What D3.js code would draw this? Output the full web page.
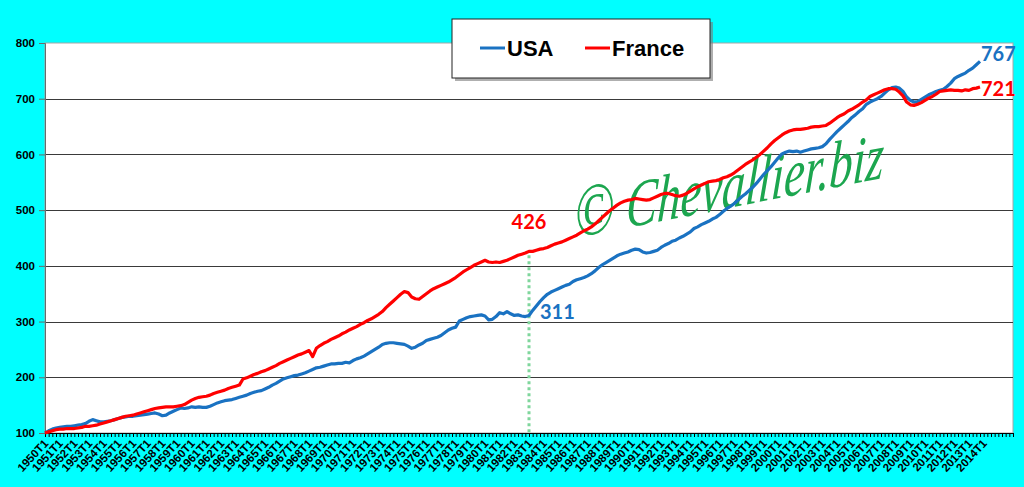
<!DOCTYPE html>
<html>
<head>
<meta charset="utf-8">
<script src="https://cdn.jsdelivr.net/npm/d3@7"></script>
<style>
  html, body { margin: 0; padding: 0; background: #00ffff; }
  svg { display: block; }
  .axis text { font-family: "Liberation Sans", Arial, sans-serif; font-weight: bold; fill: #000; }
  .lbl { font-family: Lato, "Open Sans", sans-serif; font-weight: bold; font-size: 20px; }
</style>
</head>
<body>
<div class="box"></div>
<script>
// tick labels: one category per quarter, axis runs a bit past the data
var years = d3.range(1950, 2016);
var quarters = [];
years.forEach(function(yr) {
  ["T1", "T2", "T3", "T4"].forEach(function(q) { quarters.push(yr + q); });
});
quarters.push("2016T1");

var yTicks = [100, 200, 300, 400, 500, 600, 700, 800];

// series, 1950T1 .. 2013T4 (base 100 = 1950T1)
var usa = [
  100, 104, 107, 109,  110, 111, 112, 112,  113, 114, 115, 117,  121, 124, 122, 120,
  120, 121, 122, 124,  126, 128, 129, 130,  130, 131, 132, 133,  134, 135, 136, 134,
  131, 132, 136, 139,  142, 145, 144, 145,  147, 146, 147, 146,  146, 148, 151, 154,
  156, 158, 159, 160,  162, 164, 166, 168,  171, 173, 175, 176,  179, 182, 186, 189,
  193, 197, 199, 201,  203, 204, 206, 208,  211, 214, 217, 218,  220, 222, 224, 224,
  225, 225, 227, 226,  230, 233, 235, 238,  242, 246, 250, 254,  259, 261, 262, 262,
  261, 260, 259, 256,  252, 254, 258, 261,  266, 268, 270, 272,  275, 280, 285, 288,
  290, 301, 304, 307,  309, 310, 311, 312,  310, 303, 304, 309,  316, 314, 318, 314,
  311, 312, 310, 309,  311, 320, 328, 336,  343, 349, 353, 356,  359, 362, 365, 367,
  372, 375, 377, 379,  382, 386, 391, 397,  402, 406, 410, 414,  418, 421, 423, 425,
  428, 430, 429, 425,  423, 424, 426, 428,  433, 437, 440, 444,  446, 450, 453, 457,
  461, 467, 470, 474,  477, 480, 484, 487,  492, 498, 503, 507,  512, 518, 524, 529,
  535, 541, 548, 556,  564, 571, 578, 586,  594, 601, 604, 606,  605, 606, 604, 606,
  608, 610, 611, 612,  614, 619, 627, 634,  641, 647, 653, 659,  666, 671, 677, 682,
  690, 694, 697, 700,  704, 710, 716, 720,  721, 719, 713, 703,  697, 694, 695, 699,
  703, 707, 710, 713,  715, 717, 722, 728,  736, 740, 743, 746,  751, 755, 761, 767
];
var france = [
  100, 102, 104, 106,  107, 107, 108, 108,  108, 109, 110, 112,  112, 113, 114, 116,
  118, 120, 122, 124,  126, 128, 130, 131,  132, 134, 136, 138,  140, 142, 144, 145,
  146, 147, 147, 147,  148, 149, 151, 155,  159, 162, 164, 165,  166, 168, 171, 173,
  175, 177, 180, 182,  184, 186, 197, 199,  202, 205, 207, 210,  212, 215, 218, 221,
  225, 228, 231, 234,  237, 240, 242, 245,  248, 237, 252, 257,  261, 264, 268, 271,
  274, 278, 281, 285,  288, 291, 295, 298,  302, 305, 309, 313,  318, 325, 331, 337,
  343, 349, 354, 352,  344, 341, 340, 345,  350, 355, 359, 362,  365, 368, 371, 375,
  379, 384, 389, 393,  397, 401, 404, 407,  410, 407, 406, 407,  406, 408, 410, 413,
  416, 419, 421, 423,  426, 426, 428, 430,  431, 433, 436, 439,  441, 443, 446, 449,
  452, 455, 459, 463,  466, 470, 475, 481,  487, 493, 499, 504,  509, 513, 516, 518,
  519, 521, 520, 519,  518, 519, 522, 525,  528, 530, 530, 528,  526, 525, 527, 530,
  534, 538, 542, 545,  548, 551, 552, 553,  555, 558, 560, 563,  567, 572, 577, 582,
  586, 590, 595, 600,  606, 612, 619, 625,  630, 635, 639, 642,  644, 645, 645, 646,
  647, 649, 650, 650,  651, 652, 656, 661,  666, 670, 673, 678,  681, 685, 689, 694,
  698, 704, 707, 710,  713, 716, 718, 718,  717, 712, 705, 694,  689, 688, 690, 693,
  697, 701, 704, 708,  713, 714, 715, 716,  715, 715, 714, 716,  715, 718, 719, 721
];

var markQuarter = "1983T1";

var width = 1024, height = 487;
var margin = { top: 43, right: 11, bottom: 54, left: 45 };

var svg = d3.select(".box").append("svg")
  .attr("width", width)
  .attr("height", height);

svg.append("rect")
  .attr("width", width)
  .attr("height", height)
  .attr("fill", "#00ffff");

// scales
var x = d3.scalePoint()
  .domain(quarters)
  .range([margin.left, width - margin.right]);
var y = d3.scaleLinear()
  .domain([100, 800])
  .range([height - margin.bottom, margin.top]);

// plot area
svg.append("rect")
  .attr("x", margin.left)
  .attr("y", margin.top)
  .attr("width", width - margin.left - margin.right)
  .attr("height", height - margin.top - margin.bottom)
  .attr("fill", "#fff")
  .attr("stroke", "#a6a6a6");

// gridlines
svg.append("g")
  .selectAll("line")
  .data(yTicks.slice(1, -1))
  .enter()
  .append("line")
  .attr("x1", margin.left)
  .attr("x2", width - margin.right)
  .attr("y1", function(d) { return Math.round(y(d)) + 0.5; })
  .attr("y2", function(d) { return Math.round(y(d)) + 0.5; })
  .attr("stroke", "#3a3a3a")
  .attr("stroke-width", 1.2);

// y axis
var yAxis = svg.append("g")
  .attr("class", "axis")
  .attr("transform", "translate(" + margin.left + ",0)")
  .call(d3.axisLeft(y).tickValues(yTicks).tickSize(6).tickPadding(4));
yAxis.selectAll("text").style("font-size", "11.5px");
yAxis.selectAll("line, path").attr("stroke", "#6b6b6b");

// x axis: a tick per quarter, a label per year
var xAxis = svg.append("g")
  .attr("class", "axis")
  .attr("transform", "translate(0," + (height - margin.bottom) + ")")
  .call(d3.axisBottom(x).tickSize(4).tickFormat(""));
xAxis.selectAll("line, path").attr("stroke", "#000");

svg.append("g")
  .attr("class", "axis")
  .selectAll("text")
  .data(quarters.filter(function(q) { return /T1$/.test(q) && +q.slice(0, 4) <= 2014; }))
  .enter()
  .append("text")
  .attr("transform", function(d) {
    return "translate(" + (x(d) + 4) + "," + (height - margin.bottom + 11) + ") rotate(-47)";
  })
  .style("text-anchor", "end")
  .style("font-size", "11.5px")
  .text(function(d) { return d; });

// watermark
var wm = svg.append("text")
  .attr("transform", "translate(574,238) rotate(-11) skewX(-14) scale(0.95,1.3)")
  .style("font-family", "'Liberation Serif', 'DejaVu Serif', serif")
  .style("font-style", "italic")
  .attr("fill", "#1ca64f");
wm.append("tspan")
  .style("font-size", "56px")
  .style("font-style", "normal")
  .text("\u00A9");
wm.append("tspan")
  .style("font-size", "50px")
  .text(" Chevallier.biz");

// dotted marker line at 1983T1
var mi = quarters.indexOf(markQuarter);
svg.append("line")
  .attr("x1", x(markQuarter))
  .attr("x2", x(markQuarter))
  .attr("y1", y(france[mi]) + 4)
  .attr("y2", y(100))
  .attr("stroke", "#7fd69c")
  .attr("stroke-width", 3)
  .attr("stroke-dasharray", "3,3");

// lines
var line = d3.line()
  .x(function(d, i) { return x(quarters[i]); })
  .y(function(d) { return y(d); });

svg.append("path")
  .datum(usa)
  .attr("d", line)
  .attr("fill", "none")
  .attr("stroke", "#1a72c2")
  .attr("stroke-width", 3.2)
  .attr("stroke-linejoin", "round");

svg.append("path")
  .datum(france)
  .attr("d", line)
  .attr("fill", "none")
  .attr("stroke", "#ff0000")
  .attr("stroke-width", 3.2)
  .attr("stroke-linejoin", "round");

// value labels
var last = usa.length - 1;
svg.append("text").attr("class", "lbl")
  .attr("x", x(markQuarter)).attr("y", y(france[mi]) - 22)
  .style("text-anchor", "middle").attr("fill", "#ff0000")
  .text(france[mi]);
svg.append("text").attr("class", "lbl")
  .attr("x", x(markQuarter) + 11).attr("y", y(usa[mi]) + 4)
  .attr("fill", "#1a72c2")
  .text(usa[mi]);
svg.append("text").attr("class", "lbl")
  .attr("x", x(quarters[last]) + 1).attr("y", y(usa[last]))
  .attr("fill", "#1a72c2")
  .text(usa[last]);
svg.append("text").attr("class", "lbl")
  .attr("x", x(quarters[last]) + 1).attr("y", y(france[last]) + 9)
  .attr("fill", "#ff0000")
  .text(france[last]);

// legend
var legend = svg.append("g").attr("transform", "translate(452,19)");
legend.append("rect")
  .attr("x", 3).attr("y", 3)
  .attr("width", 258).attr("height", 59)
  .attr("fill", "#7a7a7a").attr("opacity", 0.6);
legend.append("rect")
  .attr("width", 258).attr("height", 59)
  .attr("fill", "#fff").attr("stroke", "#222");

var items = [["USA", "#1a72c2", 28], ["France", "#ff0000", 133]];
items.forEach(function(it) {
  legend.append("line")
    .attr("x1", it[2]).attr("x2", it[2] + 25)
    .attr("y1", 29).attr("y2", 29)
    .attr("stroke", it[1]).attr("stroke-width", 3);
  legend.append("text")
    .attr("x", it[2] + 27).attr("y", 37)
    .style("font-family", "'Liberation Sans', Arial, sans-serif")
    .style("font-weight", "bold")
    .style("font-size", "22px")
    .text(it[0]);
});
</script>
</body>
</html>
